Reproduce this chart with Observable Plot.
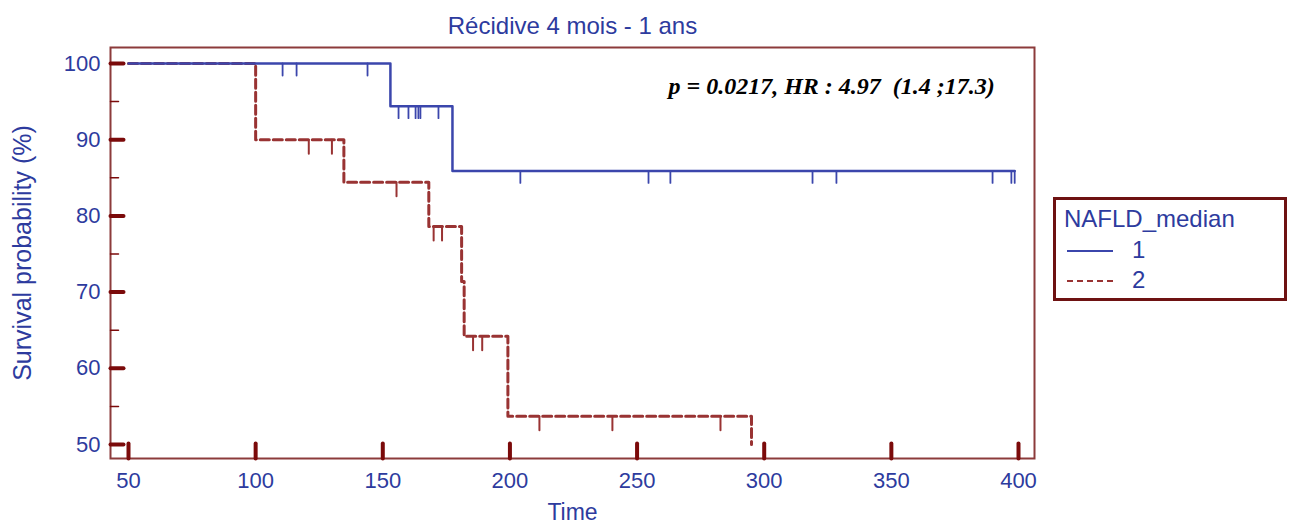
<!DOCTYPE html>
<html><head><meta charset="utf-8">
<script src="https://cdn.jsdelivr.net/npm/d3@7"></script>
<script src="https://cdn.jsdelivr.net/npm/@observablehq/plot@0.6"></script>
<style>
body{margin:0;background:#fff;font-family:"Liberation Sans",Arial,sans-serif;}
#wrap{position:relative;width:1293px;height:527px;overflow:hidden;}
#legend{position:absolute;left:1053px;top:197px;width:234px;height:104px;box-sizing:border-box;border:3px solid #6e1212;color:#2d3b9e;font-size:24px;}
#legend .t{position:absolute;left:8px;top:5px;white-space:nowrap;}
#legend .row{position:absolute;left:11px;height:24px;width:120px;}
#legend .ln{position:absolute;left:0;top:12px;width:46px;height:0;}
#legend .lab{position:absolute;left:65px;top:-2px;}
</style></head>
<body><div id="wrap"><div id="chart"></div>
<div id="legend"><div class="t">NAFLD_median</div>
<div class="row" style="top:38px"><div class="ln" style="border-top:2px solid #3b46ac"></div><div class="lab">1</div></div>
<div class="row" style="top:68px"><div class="ln" style="border-top:2px dashed #993333"></div><div class="lab">2</div></div>
</div></div>
<script>
// Group 1 (solid blue): event times and survival after each step
const blueTimes = [0, 153.0, 177.4, 398.5];
const blueSurv  = [100, 94.4, 85.9, 85.9];
const blueCensor = [110.6, 116.1, 144.0, 156.2, 160.1, 162.9, 164.0, 164.8, 171.9, 204.1, 254.5, 263.1, 319.0, 328.4, 389.8, 397.2, 398.5];
// Group 2 (dashed red)
const redTimes = [0, 100.0, 134.7, 168.1, 181.0, 182.0, 199.2, 295.0];
const redSurv  = [100, 90.0, 84.4, 78.6, 71.4, 64.2, 53.7, 0];
const redCensor = [120.9, 130.0, 155.4, 170.0, 173.3, 185.5, 189.1, 211.6, 240.3, 282.8];

const xTicks = [50, 100, 150, 200, 250, 300, 350, 400];
const yTicks = [50, 60, 70, 80, 90, 100];
const yMinor = [55, 65, 75, 85, 95];

const titleText = "Récidive 4 mois - 1 ans";
const xLabel = "Time";
const yLabel = "Survival probability (%)";
const statText = "p = 0.0217, HR : 4.97  (1.4 ;17.3)";

const BLUE = "#3b46ac", RED = "#993333", TXT = "#2d3b9e", MAROON = "#7b0a0a", FRAME = "#8c3b3b";

const toRows = (times, surv) => times.map((t, i) => ({t, s: surv[i]}));
const level = (times, surv, t) => { let v = surv[0]; times.forEach((tt, i) => { if (tt <= t) v = surv[i]; }); return v; };
const censorRows = (c, times, surv) => c.map(t => ({t, s: level(times, surv, t)}));

const tickShape = {draw(ctx, l) { ctx.moveTo(0, 0); ctx.lineTo(0, -l); }};

const chart = Plot.plot({
  width: 1293, height: 527,
  marginLeft: 110, marginRight: 259, marginTop: 47, marginBottom: 69,
  style: {fontFamily: "Liberation Sans, Arial, sans-serif", background: "white"},
  x: {domain: [50, 400], insetLeft: 18, insetRight: 16, clamp: true},
  y: {domain: [50, 100], insetTop: 16, insetBottom: 14, clamp: true},
  marks: [
    Plot.frame({stroke: FRAME, strokeWidth: 2}),
    Plot.axisX({ticks: xTicks, tickSize: 0, tickPadding: 14, fontSize: 22, color: TXT, label: null, tickFormat: d => String(d)}),
    Plot.axisY({ticks: yTicks, tickSize: 0, tickPadding: 10, fontSize: 22, color: TXT, label: null, tickFormat: d => String(d)}),
    Plot.vector(xTicks, {x: d => d, frameAnchor: "bottom", length: 15, rotate: 0, anchor: "start", shape: tickShape, stroke: MAROON, strokeWidth: 4}),
    Plot.vector(yTicks, {y: d => d, frameAnchor: "left", length: 13, rotate: 90, anchor: "start", shape: tickShape, stroke: MAROON, strokeWidth: 4}),
    Plot.vector(yMinor, {y: d => d, frameAnchor: "left", length: 8, rotate: 90, anchor: "start", shape: tickShape, stroke: MAROON, strokeWidth: 1.5}),
    Plot.line(toRows(redTimes, redSurv), {x: "t", y: "s", curve: "step-after", stroke: RED, strokeWidth: 3, strokeDasharray: "9,4"}),
    Plot.vector(censorRows(redCensor, redTimes, redSurv), {x: "t", y: "s", length: 14, rotate: 180, anchor: "start", shape: tickShape, stroke: RED, strokeWidth: 2}),
    Plot.line(toRows(blueTimes, blueSurv), {x: "t", y: "s", curve: "step-after", stroke: BLUE, strokeWidth: 2.5}),
    Plot.vector(censorRows(blueCensor, blueTimes, blueSurv), {x: "t", y: "s", length: 12, rotate: 180, anchor: "start", shape: tickShape, stroke: BLUE, strokeWidth: 1.8}),
    Plot.text([titleText], {text: d => d, frameAnchor: "top", dy: -21, lineAnchor: "middle", fontSize: 24, fill: TXT}),
    Plot.text([xLabel], {text: d => d, frameAnchor: "bottom", dy: 54, lineAnchor: "middle", fontSize: 23, fill: TXT}),
    Plot.text([yLabel], {text: d => d, frameAnchor: "left", dx: -88, rotate: -90, textAnchor: "middle", lineAnchor: "middle", fontSize: 25, fill: TXT}),
    Plot.text([statText], {text: d => d, frameAnchor: "top-left", dx: 558, dy: 39, textAnchor: "start", lineAnchor: "middle", fontSize: 24, fontWeight: "bold", fontStyle: "italic", fontFamily: "Liberation Serif, Times New Roman, serif", fill: "black"})
  ]
});
chart.querySelectorAll("text").forEach(t => { t.setAttribute("xml:space", "preserve"); t.style.whiteSpace = "pre"; });
document.getElementById("chart").appendChild(chart);
</script>
</body></html>
